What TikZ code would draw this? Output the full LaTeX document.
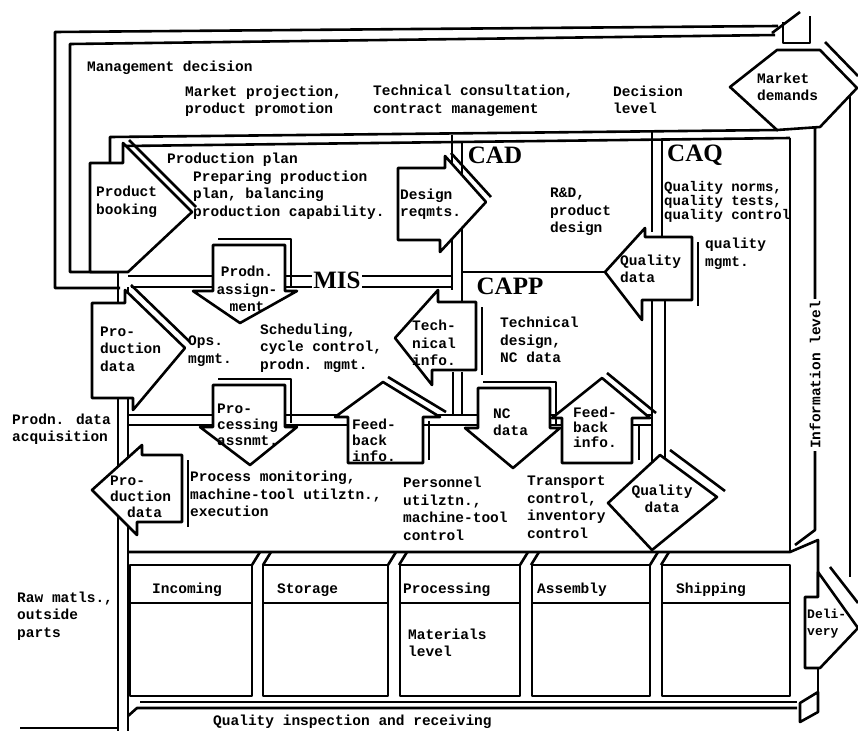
\documentclass[tikz,border=0pt]{standalone}
\usepackage{fontspec}
\setmainfont{Liberation Mono}
\newfontfamily\sysfont{Liberation Serif}
\usepackage{tikz}
\usetikzlibrary{positioning}

\begin{document}
\begin{tikzpicture}[x=1pt,y=-1pt,
  wall/.style={line width=2.6pt, line join=round},
  flow/.style={line width=2.6pt, line join=round, fill=white},
  txt/.style={font=\bfseries\fontsize{14.5}{17.5}\selectfont, align=left, anchor=west, inner sep=0pt},
  tight/.style={font=\bfseries\fontsize{14}{14}\selectfont},
  system/.style={font=\sysfont\bfseries\fontsize{25}{25}\selectfont, inner sep=1pt}]

  \useasboundingbox (0,0) rectangle (858,731);

  \draw[wall] (120,288) -- (55,288) -- (55,32) -- (778,26);
  \draw[wall] (118,272) -- (70,272) -- (70,44) -- (775,35);
  \draw[wall] (772,33) -- (800,12);
  \draw[wall] (783,22) -- (783,43) -- (810,43) -- (810,16);
  \draw[wall] (110,163) -- (110,137) -- (778,130);
  \draw[wall] (125,163) -- (125,146) -- (790,138);

  \draw[wall] (452,135) -- (452,290);
  \draw[wall] (462,143) -- (462,302);
  \draw[wall] (652,131) -- (652,232);
  \draw[wall] (662,139) -- (662,238);
  \draw[wall] (790,138) -- (790,552);
  \draw[wall] (815,128) -- (815,530) -- (795,545);
  \draw[wall] (850,88) -- (850,577);
  \draw[wall] (128,276) -- (452,276);
  \draw[wall] (131,287) -- (452,287);
  \draw[wall] (462,272) -- (610,272);

  \draw[wall] (118,272) -- (118,731);
  \draw[wall] (128,287) -- (128,731);
  \draw[wall] (20,728) -- (118,728);

  \draw[wall] (128,415) -- (652,415);
  \draw[wall] (128,425) -- (652,425);
  \draw[wall] (453,372) -- (453,415);
  \draw[wall] (462,372) -- (462,415);
  \draw[wall] (652,300) -- (652,462);
  \draw[wall] (665,300) -- (665,462);
  \draw[wall] (128,552) -- (790,552) -- (818,540) -- (818,597);
  \draw[wall] (818,668) -- (818,692);

  \foreach \l/\r in {130/252,263/388,400/520,532/650,662/790} {
    \draw[wall] (\l,565) rectangle (\r,696);
    \draw[wall] (\l,603) -- (\r,603);
  }
  \foreach \g in {252,388,520,650} {
    \draw[wall] (\g,565) -- (\g+8,552);
    \draw[wall] (\g+11,565) -- (\g+19,552);
  }

  \draw[wall] (140,702) -- (797,702);
  \draw[wall] (128,716) -- (137,708) -- (797,708);
  \draw[flow] (800,703) -- (818,692) -- (818,712) -- (800,722) -- cycle;

  \draw[flow] (90,163) -- (123,163) -- (123,143) -- (192,212) -- (128,272) -- (90,272) -- cycle;
  \draw[wall] (129,140) -- (196,207);
  \draw[flow] (398,168) -- (445,168) -- (445,156) -- (486,202) -- (440,252) -- (440,240) -- (398,240) -- cycle;
  \draw[wall] (451,153) -- (491,197);
  \draw[flow] (692,237) -- (645,237) -- (645,228) -- (605,272) -- (642,320) -- (642,300) -- (692,300) -- cycle;
  \draw[wall] (698,242) -- (698,306);
  \draw[flow] (213,245) -- (285,245) -- (285,291) -- (297,291) -- (240,323) -- (193,291) -- (213,291) -- cycle;
  \draw[wall] (218,239) -- (291,239) -- (291,287);
  \draw[flow] (476,302) -- (438,302) -- (438,290) -- (395,338) -- (432,385) -- (432,370) -- (476,370) -- cycle;
  \draw[wall] (482,307) -- (482,375);
  \draw[flow] (92,303) -- (125,303) -- (125,290) -- (185,348) -- (133,410) -- (133,398) -- (92,398) -- cycle;
  \draw[wall] (131,285) -- (190,342);

  \draw[flow] (213,385) -- (285,385) -- (285,427) -- (297,427) -- (250,465) -- (200,427) -- (213,427) -- cycle;
  \draw[wall] (218,379) -- (291,379) -- (291,423);
  \draw[flow] (383,382) -- (440,417) -- (423,417) -- (423,463) -- (348,463) -- (348,417) -- (335,417) -- cycle;
  \draw[wall] (388,377) -- (446,412);
  \draw[wall] (429,421) -- (429,460);
  \draw[flow] (478,388) -- (550,388) -- (550,428) -- (560,428) -- (513,468) -- (465,428) -- (478,428) -- cycle;
  \draw[wall] (483,382) -- (556,382) -- (556,424);
  \draw[flow] (602,378) -- (650,418) -- (632,418) -- (632,463) -- (562,463) -- (562,418) -- (552,418) -- cycle;
  \draw[wall] (607,373) -- (656,413);
  \draw[wall] (639,425) -- (639,460);
  \draw[flow] (182,455) -- (142,455) -- (142,445) -- (92,490) -- (137,535) -- (137,522) -- (182,522) -- cycle;
  \draw[wall] (188,460) -- (188,527);
  \draw[flow] (660,455) -- (717,497) -- (652,550) -- (608,503) -- cycle;
  \draw[wall] (670,450) -- (725,491);

  \draw[flow] (730,87) -- (777,50) -- (820,50) -- (857,88) -- (820,127) -- (777,130) -- cycle;
  \draw[wall] (825,42) -- (858,76);
  \draw[flow] (805,597) -- (818,597) -- (818,572) -- (858,628) -- (820,668) -- (805,668) -- cycle;
  \draw[wall] (830,567) -- (858,603);

  \node[txt] (mgmt) at (87,68) {Management decision};
  \node[txt] (mktproj) at (185,101) {Market projection,\\product promotion};
  \node[txt] (techcons) at (373,101) {Technical consultation,\\contract management};
  \node[txt] (declevel) at (613,100) {Decision\\level};
  \node[txt] (mktdem) at (757,87) {Market\\demands};
  \node[txt] (prodplan) at (167,160) {Production plan};
  \node[txt] (prepplan) at (193,195) {Preparing production\\plan, balancing\\production capability.};
  \node[txt] (booking) at (96,202) {Product\\booking};
  \node[txt] (designreq) at (400,204) {Design\\reqmts.};
  \node[system] (cad) at (495,155) {CAD};
  \node[txt] (rnd) at (550,212) {R\&D,\\product\\design};
  \node[system] (caq) at (695,155) {CAQ};
  \node[txt, tight] (qnorms) at (664,202) {Quality norms,\\quality tests,\\quality control};
  \node[txt] (qmgmt) at (705,254) {quality\\mgmt.};
  \node[txt] (qdatatop) at (620,269) {Quality\\data};
  \node[txt, align=center, anchor=center] (assign) at (247,289) {Prodn.\\assign-\\ment};
  \node[system, fill=white] (mis) at (337,280) {MIS};
  \node[system] (capp) at (510,286) {CAPP};
  \node[txt] (techinfo) at (412,343) {Tech-\\nical\\info.};
  \node[txt] (techdes) at (500,340) {Technical\\design,\\NC data};
  \node[txt] (sched) at (260,348) {Scheduling,\\cycle control,\\prodn. mgmt.};
  \node[txt] (ops) at (188,351) {Ops.\\mgmt.};
  \node[txt] (proddatatop) at (100,349) {Pro-\\duction\\data};

  \node[txt, font=\bfseries\fontsize{14.5}{16}\selectfont] (procassn) at (217,425) {Pro-\\cessing\\assnmt.};
  \node[txt, font=\bfseries\fontsize{14.5}{16}\selectfont] (fbleft) at (352,440) {Feed-\\back\\info.};
  \node[txt] (acq) at (12,429) {Prodn. data\\acquisition};
  \node[txt, font=\bfseries\fontsize{14.5}{16}\selectfont] (proddatalow) at (110,497) {Pro-\\duction\\\hspace*{17pt}data};
  \node[txt] (procmon) at (190,494) {Process monitoring,\\machine-tool utilztn.,\\execution};
  \node[txt] (personnel) at (403,509) {Personnel\\utilztn.,\\machine-tool\\control};
  \node[txt] (transport) at (527,507) {Transport\\control,\\inventory\\control};
  \node[txt] (ncdata) at (493,422) {NC\\data};
  \node[txt, font=\bfseries\fontsize{14.5}{15}\selectfont] (fbright) at (573,427) {Feed-\\back\\info.};
  \node[txt, align=center, anchor=center] (qdatalow) at (662,499) {Quality\\data};
  \node[txt, anchor=center, rotate=90, fill=white, inner sep=2pt] (infolev) at (815,375) {Information level};

  \node[txt] (incoming) at (152,590) {Incoming};
  \node[txt] (storage) at (277,590) {Storage};
  \node[txt] (processing) at (403,590) {Processing};
  \node[txt] (assembly) at (537,590) {Assembly};
  \node[txt] (shipping) at (676,590) {Shipping};
  \node[txt] (matlevel) at (408,643) {Materials\\level};
  \node[txt] (rawmatls) at (17,616) {Raw matls.,\\outside\\parts};
  \node[txt, font=\bfseries\fontsize{13}{17}\selectfont] (delivery) at (807,624) {Deli-\\very};
  \node[txt] (qinsp) at (213,722) {Quality inspection and receiving};

\end{tikzpicture}
\end{document}
